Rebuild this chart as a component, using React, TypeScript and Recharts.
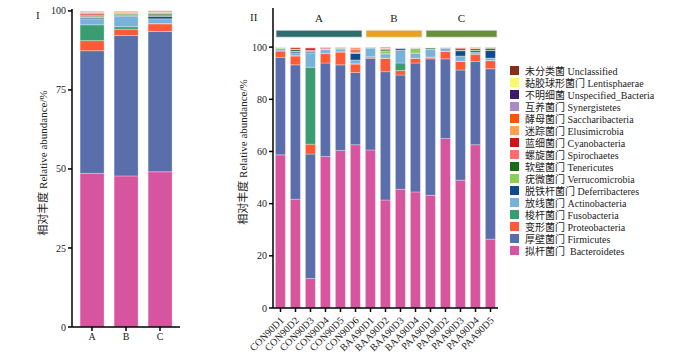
import React from "react";
import { Bar, BarChart, ReferenceArea, XAxis, YAxis } from "recharts";

const GROUPS = ["A", "B", "C"];
const SAMPLES = [
  "CON90D1", "CON90D2", "CON90D3", "CON90D4", "CON90D5", "CON90D6",
  "BAA90D1", "BAA90D2", "BAA90D3", "BAA90D4",
  "PAA90D1", "PAA90D2", "PAA90D3", "PAA90D4", "PAA90D5",
];
const LEFT_TICKS = [0, 25, 50, 75, 100];
const RIGHT_TICKS = [0, 20, 40, 60, 80, 100];

// sample groups drawn as bands above panel II
const SAMPLE_GROUPS = [
  { name: "A", from: "CON90D1", to: "CON90D6" },
  { name: "B", from: "BAA90D1", to: "BAA90D4" },
  { name: "C", from: "PAA90D1", to: "PAA90D5" },
];

// relative abundance (%), panel I: A, B, C
const bacteroidetesByGroup = [48.6, 47.8, 49.1];
const firmicutesByGroup = [38.8, 44.4, 44.4];
const proteobacteriaByGroup = [3.2, 2.0, 2.4];
const fusobacteriaByGroup = [5.0, 0.8, 0.1];
const actinobacteriaByGroup = [1.9, 3.2, 1.5];
const deferribacteresByGroup = [0.3, 0.2, 0.8];
const verrucomicrobiaByGroup = [0.2, 0.45, 0.2];
const tenericutesByGroup = [0.3, 0.3, 0.5];
const spirochaetesByGroup = [0.3, 0.1, 0.1];
const cyanobacteriaByGroup = [0.4, 0.1, 0.2];
const elusimicrobiaByGroup = [0.2, 0.2, 0.1];
const saccharibacteriaByGroup = [0.3, 0.2, 0.2];
const synergistetesByGroup = [0.1, 0.05, 0.05];
const unspecifiedByGroup = [0.1, 0.05, 0.1];
const lentisphaeraeByGroup = [0.05, 0.05, 0.05];
const unclassifiedByGroup = [0.1, 0.1, 0.2];

// relative abundance (%), panel II: one value per sample
const bacteroidetesBySample = [58.7, 41.7, 11.3, 58.1, 60.4, 62.6, 60.6, 41.4, 45.5, 44.5, 43.2, 65.0, 49.0, 62.6, 26.4];
const firmicutesBySample = [37.4, 51.5, 47.7, 35.8, 32.8, 27.7, 35.1, 49.2, 43.8, 49.4, 52.3, 30.5, 42.2, 31.9, 65.3];
const proteobacteriaBySample = [2.4, 3.4, 3.8, 3.6, 4.9, 3.2, 0.5, 5.1, 1.7, 1.8, 0.6, 2.8, 3.3, 2.8, 3.1];
const fusobacteriaBySample = [0.1, 0.1, 29.5, 0.1, 0.1, 0.1, 0.1, 0.1, 2.9, 0.1, 0.1, 0.1, 0.1, 0.1, 0.1];
const actinobacteriaBySample = [0.8, 1.1, 5.5, 1.4, 1.1, 1.5, 3.4, 1.5, 5.0, 1.8, 3.1, 1.1, 2.0, 0.6, 0.9];
const deferribacteresBySample = [0.1, 0.6, 0.4, 0.2, 0.1, 2.5, 0.05, 0.2, 0.7, 0.1, 0.05, 0.05, 2.0, 0.6, 2.9];
const verrucomicrobiaBySample = [0.3, 0.1, 0.1, 0.1, 0.1, 0.1, 0.05, 1.0, 0.1, 1.8, 0.05, 0.05, 0.2, 0.2, 0.1];
const tenericutesBySample = [0.1, 0.6, 0.3, 0.1, 0.2, 0.2, 0.05, 0.4, 0.05, 0.1, 0.5, 0.3, 0.6, 0.6, 0.8];
const spirochaetesBySample = [0.02, 0.2, 0.2, 0.1, 0.05, 1.3, 0.02, 0.3, 0.02, 0.1, 0.02, 0.02, 0.05, 0.1, 0.05];
const cyanobacteriaBySample = [0.05, 0.5, 0.9, 0.3, 0.05, 0.1, 0.02, 0.3, 0.02, 0.2, 0.02, 0.03, 0.4, 0.1, 0.2];
const elusimicrobiaBySample = [0.01, 0.05, 0.1, 0.05, 0.05, 0.1, 0.05, 0.2, 0.1, 0.05, 0.02, 0.02, 0.05, 0.3, 0.05];
const saccharibacteriaBySample = [0.01, 0.1, 0.2, 0.1, 0.1, 0.6, 0.02, 0.1, 0.05, 0.05, 0.02, 0.02, 0.1, 0.05, 0.05];
const synergistetesBySample = [0.01, 0.01, 0.01, 0.01, 0.01, 0.01, 0.01, 0.01, 0.01, 0.01, 0.01, 0.01, 0.01, 0.01, 0.01];
const unspecifiedBySample = [0.01, 0.01, 0.01, 0.01, 0.01, 0.01, 0.01, 0.01, 0.01, 0.01, 0.01, 0.01, 0.01, 0.01, 0.01];
const lentisphaeraeBySample = [0.01, 0.01, 0.01, 0.01, 0.01, 0.01, 0.01, 0.01, 0.05, 0.01, 0.01, 0.01, 0.01, 0.01, 0.01];
const unclassifiedBySample = [0.05, 0.05, 0.05, 0.05, 0.05, 0.05, 0.05, 0.2, 0.05, 0.05, 0.05, 0.05, 0.05, 0.05, 0.05];

// stacking order, bottom to top
const PHYLA = [
  { key: "Bacteroidetes", zh: "拟杆菌门", en: " Bacteroidetes", byGroup: bacteroidetesByGroup, bySample: bacteroidetesBySample },
  { key: "Firmicutes", zh: "厚壁菌门", en: "Firmicutes", byGroup: firmicutesByGroup, bySample: firmicutesBySample },
  { key: "Proteobacteria", zh: "变形菌门", en: "Proteobacteria", byGroup: proteobacteriaByGroup, bySample: proteobacteriaBySample },
  { key: "Fusobacteria", zh: "梭杆菌门", en: "Fusobacteria", byGroup: fusobacteriaByGroup, bySample: fusobacteriaBySample },
  { key: "Actinobacteria", zh: "放线菌门", en: "Actinobacteria", byGroup: actinobacteriaByGroup, bySample: actinobacteriaBySample },
  { key: "Deferribacteres", zh: "脱铁杆菌门", en: "Deferribacteres", byGroup: deferribacteresByGroup, bySample: deferribacteresBySample },
  { key: "Verrucomicrobia", zh: "疣微菌门", en: "Verrucomicrobia", byGroup: verrucomicrobiaByGroup, bySample: verrucomicrobiaBySample },
  { key: "Tenericutes", zh: "软壁菌门", en: "Tenericutes", byGroup: tenericutesByGroup, bySample: tenericutesBySample },
  { key: "Spirochaetes", zh: "螺旋菌门", en: "Spirochaetes", byGroup: spirochaetesByGroup, bySample: spirochaetesBySample },
  { key: "Cyanobacteria", zh: "蓝细菌门", en: "Cyanobacteria", byGroup: cyanobacteriaByGroup, bySample: cyanobacteriaBySample },
  { key: "Elusimicrobia", zh: "迷踪菌门", en: "Elusimicrobia", byGroup: elusimicrobiaByGroup, bySample: elusimicrobiaBySample },
  { key: "Saccharibacteria", zh: "酵母菌门", en: "Saccharibacteria", byGroup: saccharibacteriaByGroup, bySample: saccharibacteriaBySample },
  { key: "Synergistetes", zh: "互养菌门", en: "Synergistetes", byGroup: synergistetesByGroup, bySample: synergistetesBySample },
  { key: "Unspecified", zh: "不明细菌", en: "Unspecified_Bacteria", byGroup: unspecifiedByGroup, bySample: unspecifiedBySample },
  { key: "Lentisphaerae", zh: "黏胶球形菌门", en: "Lentisphaerae", byGroup: lentisphaeraeByGroup, bySample: lentisphaeraeBySample },
  { key: "Unclassified", zh: "未分类菌", en: "Unclassified", byGroup: unclassifiedByGroup, bySample: unclassifiedBySample },
];

const COLORS: Record<string, string> = {
  Bacteroidetes: "#d6559e",
  Firmicutes: "#5a6eab",
  Proteobacteria: "#ff5a35",
  Fusobacteria: "#3a9c72",
  Actinobacteria: "#79b2d9",
  Deferribacteres: "#0f4a8a",
  Verrucomicrobia: "#8ccd55",
  Tenericutes: "#1b6b1b",
  Spirochaetes: "#ff6b6e",
  Cyanobacteria: "#d01414",
  Elusimicrobia: "#ffa04e",
  Saccharibacteria: "#ff5500",
  Synergistetes: "#a98bc8",
  Unspecified: "#3e1a6b",
  Lentisphaerae: "#f8f86a",
  Unclassified: "#8a2c1a",
};

const GROUP_COLORS: Record<string, string> = {
  A: "#2e6d6e",
  B: "#e8a024",
  C: "#6a8f3c",
};

const FONT = "'Liberation Serif', 'Noto Sans CJK SC', serif";
const Y_LABEL = "相对丰度  Relative abundance/%";

const groupData = GROUPS.map((name, i) => {
  const row: Record<string, string | number> = { name };
  PHYLA.forEach((p) => (row[p.key] = p.byGroup[i]));
  return row;
});

const sampleData = SAMPLES.map((name, i) => {
  const row: Record<string, string | number> = { name };
  PHYLA.forEach((p) => (row[p.key] = p.bySample[i]));
  return row;
});

const axisProps = {
  stroke: "#000",
  strokeWidth: 1.5,
  tickSize: 4,
  tick: { fill: "#222", fontSize: 10, fontFamily: FONT },
};

function SampleTick(props: any) {
  const { x, y, payload } = props;
  return (
    <text
      fill="#222"
      fontFamily={FONT}
      fontSize={10}
      textAnchor="end"
      transform={`translate(${x + 4},${y + 7}) rotate(-45)`}
    >
      {payload.value}
    </text>
  );
}

// ReferenceArea runs from the start of the first band to the end of the
// last one; trim it so it just covers the bars of the group
function GroupBand(props: any) {
  const { x, y, width, height, name } = props;
  const left = x + 3;
  const w = width - 4;
  return (
    <g>
      <rect
        fill={GROUP_COLORS[name]}
        height={height}
        stroke="#e8e8e8"
        strokeWidth={0.8}
        width={w}
        x={left}
        y={y}
      />
      <text
        fill="#222"
        fontFamily={FONT}
        fontSize={11}
        textAnchor="middle"
        x={left + w / 2}
        y={y - 8}
      >
        {name}
      </text>
    </g>
  );
}

export default function App() {
  const legendItems = [...PHYLA].reverse();

  return (
    <div
      style={{
        position: "absolute",
        left: 0,
        top: 0,
        width: 700,
        height: 364,
        background: "#fff",
        fontFamily: FONT,
      }}
    >
      <div style={{ position: "absolute", left: 0, top: 0 }}>
        <BarChart
          data={groupData}
          height={364}
          margin={{ top: 9, right: 20, bottom: 7, left: 0 }}
          barCategoryGap="15%"
          width={200}
        >
          <XAxis
            dataKey="name"
            height={30}
            padding={{ left: 3, right: 3 }}
            {...axisProps}
          />
          <YAxis
            allowDataOverflow
            domain={[0, 100.6]}
            ticks={LEFT_TICKS}
            type="number"
            width={72}
            {...axisProps}
          />
          {PHYLA.map((p) => (
            <Bar
              dataKey={p.key}
              fill={COLORS[p.key]}
              isAnimationActive={false}
              key={p.key}
              stackId="s"
              stroke="#ffffff"
              strokeOpacity={0.5}
              strokeWidth={0.6}
            />
          ))}
        </BarChart>
      </div>

      <div style={{ position: "absolute", left: 220, top: 0 }}>
        <BarChart
          data={sampleData}
          height={364}
          margin={{ top: 8, right: 7, bottom: 6, left: 0 }}
          barCategoryGap="16%"
          width={285}
        >
          <XAxis
            dataKey="name"
            height={50}
            interval={0}
            {...axisProps}
            tick={<SampleTick />}
          />
          <YAxis
            allowDataOverflow
            domain={[0, 115]}
            ticks={RIGHT_TICKS}
            type="number"
            width={53}
            {...axisProps}
          />
          {PHYLA.map((p) => (
            <Bar
              dataKey={p.key}
              fill={COLORS[p.key]}
              isAnimationActive={false}
              key={p.key}
              stackId="s"
              stroke="#ffffff"
              strokeOpacity={0.5}
              strokeWidth={0.6}
            />
          ))}
          {SAMPLE_GROUPS.map((g) => (
            <ReferenceArea
              ifOverflow="visible"
              key={g.name}
              shape={(props: any) => <GroupBand {...props} name={g.name} />}
              x1={g.from}
              x2={g.to}
              y1={103.8}
              y2={106.5}
            />
          ))}
        </BarChart>
      </div>

      <svg
        height={364}
        style={{ position: "absolute", left: 0, top: 0, pointerEvents: "none" }}
        width={700}
      >
        <text fill="#222" fontFamily={FONT} fontSize={11} x={36} y={19}>
          I
        </text>
        <text fill="#222" fontFamily={FONT} fontSize={11} x={250} y={21}>
          II
        </text>
        <text
          fill="#222"
          fontFamily={FONT}
          fontSize={11}
          textAnchor="middle"
          transform="translate(47,163) rotate(-90)"
        >
          {Y_LABEL}
        </text>
        <text
          fill="#222"
          fontFamily={FONT}
          fontSize={11}
          textAnchor="middle"
          transform="translate(247,152) rotate(-90)"
        >
          {Y_LABEL}
        </text>
      </svg>

      <div style={{ position: "absolute", left: 510, top: 64 }}>
        {legendItems.map((p) => (
          <div
            key={p.key}
            style={{
              display: "flex",
              alignItems: "center",
              height: 12,
              fontSize: 10,
              color: "#222",
              whiteSpace: "pre",
            }}
          >
            <span
              style={{
                display: "inline-block",
                width: 9,
                height: 9,
                background: COLORS[p.key],
                marginRight: 6,
              }}
            />
            {p.zh + " " + p.en}
          </div>
        ))}
      </div>
    </div>
  );
}
